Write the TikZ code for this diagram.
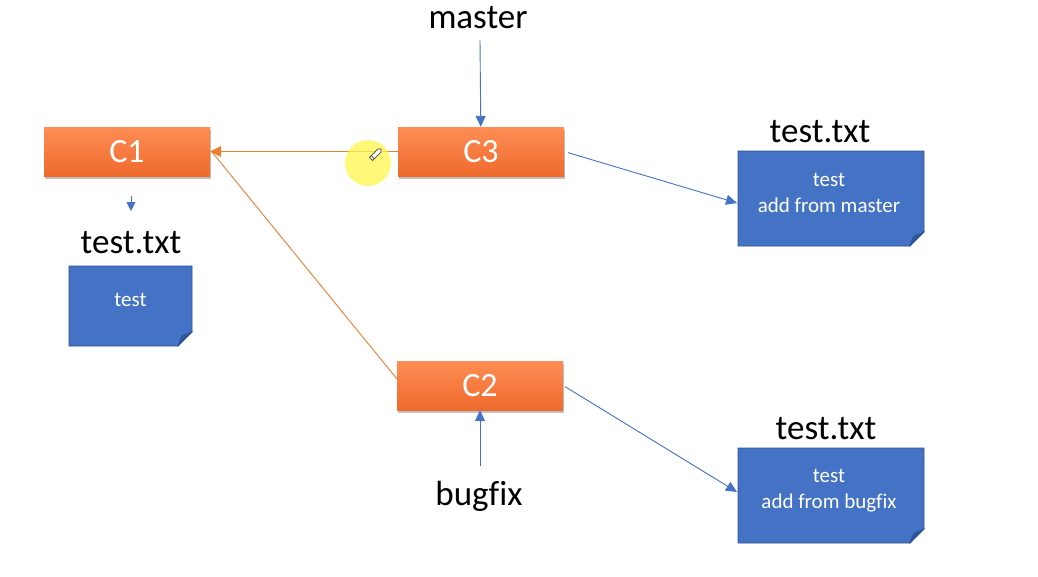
\documentclass[tikz,border=0pt]{standalone}
\usepackage{fontspec}
\setmainfont[Ligatures={NoCommon}]{Carlito}
\usetikzlibrary{arrows.meta,shadows,backgrounds}
\definecolor{otop}{HTML}{FF8D55}
\definecolor{obot}{HTML}{EE6A2C}
\definecolor{oline}{HTML}{ED7D31}
\definecolor{bline}{HTML}{4472C4}
\definecolor{dfill}{HTML}{4472C4}
\definecolor{dedge}{HTML}{2F528F}
\definecolor{dfold}{HTML}{31569A}
\tikzset{
  commit/.style={rectangle, minimum width=166pt, minimum height=49pt, inner sep=0pt,
    top color=otop, bottom color=obot, text=white,
    font=\fontsize{34}{38}\selectfont,
    drop shadow={shadow xshift=1pt, shadow yshift=-3pt, opacity=0.35, fill=black!70}},
  lbl/.style={inner sep=0pt, font=\fontsize{35}{40}\selectfont, text=black},
  doctext/.style={inner sep=0pt, align=center, text=white, font=\fontsize{21}{26}\selectfont},
  barrow/.style={draw=bline, line width=0.9pt, -{Triangle[length=11pt,width=10pt]}},
  oarrow/.style={draw=oline, line width=0.9pt, -{Triangle[length=11pt,width=11pt]}},
}
\newcommand\docshape[4]{% x0 y0 x1 y1
  \filldraw[fill=dfill, draw=dedge, line width=0.9pt] (#1,#2) -- (#3,#2) -- (#3,#4-14) -- (#3-14,#4) -- (#1,#4) -- cycle;
  \filldraw[fill=dfold, draw=dedge, line width=0.6pt] (#3,#4-14) -- (#3-14,#4) .. controls (#3-12,#4-6) .. (#3-10,#4-10) -- cycle;
}
\begin{document}
\begin{tikzpicture}[x=1pt,y=-1pt]
\useasboundingbox (0,0) rectangle (1038,576);
\fill[white] (0,0) rectangle (1038,576);

% documents (shapes)
\docshape{69}{266}{192}{346}
\docshape{738}{151}{924}{246}
\docshape{738}{448}{924}{543}
\node[doctext] (d1) at (130.5,299.5) {test};
\node[doctext] (d2) at (829,192.5) {test\\add from master};
\node[doctext] (d3) at (829,490.5) {test\\add from bugfix};
\coordinate (d2w) at (737,203);
\coordinate (d3w) at (737,492);

% commits
\node[commit] (c1) at (127,151.5) {C1};
\node[commit] (c3) at (481,151.5) {C3};
\node[commit] (c2) at (480,385.5) {C2};

% labels
\node[lbl] (master) at (478,17.5) {master};
\node[lbl] (bugfix) at (479,496.5) {bugfix};
\node[lbl] (t1) at (131,243) {test.txt};
\node[lbl] (t2) at (820,132) {test.txt};
\node[lbl] (t3) at (826,429) {test.txt};

% connectors
\coordinate (ms) at (480,40);
\coordinate (bs) at (480,466);
\draw[barrow] (ms) -- (c3);
\draw[barrow] (bs) -- (c2);
\coordinate (s1) at (131,196);
\coordinate (s1e) at (131,211);
\draw[draw=bline, line width=0.9pt, -{Triangle[length=9pt,width=9pt]}] (s1) -- (s1e);
\draw[oarrow] (c3.west) -- (c1.east);
\coordinate (c2a) at (397,379);
\coordinate (c1a) at (212,152);
\draw[draw=oline, line width=0.9pt] (c2a) -- (c1a);
\draw[barrow, shorten <=4pt] (c3.east) -- (d2w);
\draw[barrow, shorten <=2pt] (c2.east) -- (d3w);

% cursor highlight
\fill[yellow!70!white, opacity=0.75] (368,163) circle (23);
\begin{scope}[shift={(376,154)}, rotate=45]
  \filldraw[fill=white, draw=black!75, line width=0.7pt] (-7,-2.2) -- (5,-2.2) -- (7,0) -- (5,2.2) -- (-7,2.2) -- cycle;
  \draw[black!75, line width=0.6pt] (-4.5,-2.2) -- (-4.5,2.2);
\end{scope}
\end{tikzpicture}
\end{document}
